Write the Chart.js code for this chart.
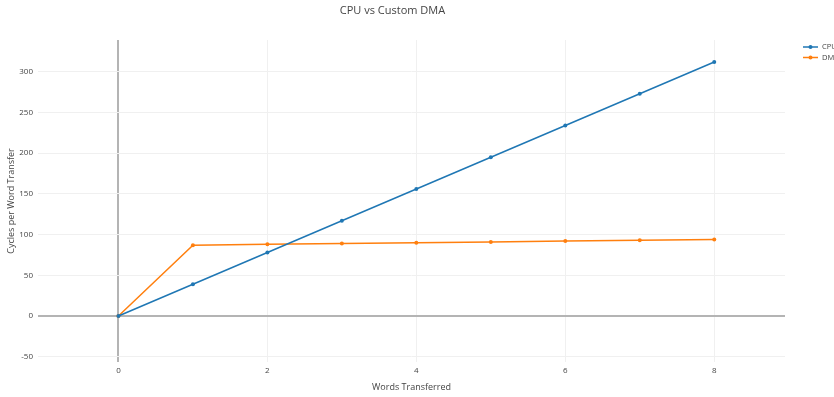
<!DOCTYPE html>
<html>
<head>
<meta charset="utf-8">
<script src="https://cdn.jsdelivr.net/npm/chart.js@4"></script>
<style>
  html, body { margin: 0; padding: 0; background: #fff; }
  #wrap { width: 834px; height: 397px; }
</style>
</head>
<body>
<div id="wrap"><canvas id="myChart"></canvas></div>
<script>
const words = [0, 1, 2, 3, 4, 5, 6, 7, 8];
const cpuCycles = [0, 39, 78, 117, 156, 195, 234, 273, 312];
const dmaCycles = [0, 87, 88, 89, 90, 91, 92, 93, 94];
const seriesNames = ['CPU', 'DMA'];
const xTicks = [0, 2, 4, 6, 8];
const yTicks = [-50, 0, 50, 100, 150, 200, 250, 300];

const FONT = "'Open Sans', 'Noto Sans', sans-serif";
const colors = ['#1f77b4', '#ff7f0e'];

const toPoints = (ys) => words.map((x, i) => ({ x: x, y: ys[i] }));

const data = {
  datasets: [cpuCycles, dmaCycles].map((ys, i) => ({
    label: seriesNames[i],
    data: toPoints(ys),
    borderColor: colors[i],
    backgroundColor: colors[i],
    borderWidth: 1.5,
    pointRadius: 2,
    pointBorderWidth: 0,
    tension: 0,
  })),
};

// draws the small plotly-like legend in the top right corner
const cornerLegend = {
  id: 'cornerLegend',
  afterDraw(chart) {
    const ctx = chart.ctx;
    ctx.save();
    ctx.font = '7.5px ' + FONT;
    ctx.textBaseline = 'middle';
    chart.data.datasets.forEach((ds, i) => {
      const y = 47 + i * 10.5;
      ctx.strokeStyle = ds.borderColor;
      ctx.lineWidth = 1.5;
      ctx.beginPath();
      ctx.moveTo(803, y);
      ctx.lineTo(818, y);
      ctx.stroke();
      ctx.fillStyle = ds.borderColor;
      ctx.beginPath();
      ctx.arc(810.5, y, 2, 0, Math.PI * 2);
      ctx.fill();
      ctx.fillStyle = '#444';
      ctx.fillText(ds.label, 822, y);
    });
    ctx.restore();
  },
};

const gridColor = (ctx) => (ctx.tick && ctx.tick.value === 0 ? '#b4b4b4' : '#f0f0f0');
const gridWidth = (ctx) => (ctx.tick && ctx.tick.value === 0 ? 2 : 1);

const config = {
  type: 'line',
  data: data,
  plugins: [cornerLegend],
  options: {
    responsive: true,
    maintainAspectRatio: false,
    animation: false,
    layout: { padding: { left: 0, right: 49, top: 0, bottom: 0 } },
    plugins: {
      legend: { display: false },
      tooltip: { enabled: false },
      title: {
        display: true,
        text: 'CPU vs Custom DMA',
        color: '#444',
        font: { family: FONT, size: 11, weight: 'normal', lineHeight: 1.2 },
        padding: { top: 4, bottom: 22.8 },
      },
    },
    scales: {
      x: {
        type: 'linear',
        min: -1.08,
        max: 8.95,
        afterBuildTicks: (scale) => { scale.ticks = xTicks.map((v) => ({ value: v })); },
        afterFit: (scale) => { scale.height = 35; },
        border: { display: false },
        grid: { color: gridColor, lineWidth: gridWidth, tickLength: 0, drawTicks: false },
        ticks: { color: '#444', padding: 4, maxRotation: 0, font: { family: FONT, size: 8 } },
        title: {
          display: true,
          text: 'Words Transferred',
          color: '#444',
          font: { family: FONT, size: 9, lineHeight: 1.2 },
          padding: { top: 0, bottom: 4.6 },
        },
      },
      y: {
        type: 'linear',
        min: -56.5,
        max: 339,
        afterBuildTicks: (scale) => { scale.ticks = yTicks.map((v) => ({ value: v })); },
        afterFit: (scale) => { scale.width = 38; },
        border: { display: false },
        grid: { color: gridColor, lineWidth: gridWidth, tickLength: 0, drawTicks: false },
        ticks: { color: '#444', padding: 5, font: { family: FONT, size: 8 } },
        title: {
          display: true,
          text: 'Cycles per Word Transfer',
          color: '#444',
          font: { family: FONT, size: 9, lineHeight: 1.2 },
          padding: { top: 6.5, bottom: 0 },
        },
      },
    },
  },
};

const myChart = new Chart(document.getElementById('myChart'), config);
</script>
</body>
</html>
